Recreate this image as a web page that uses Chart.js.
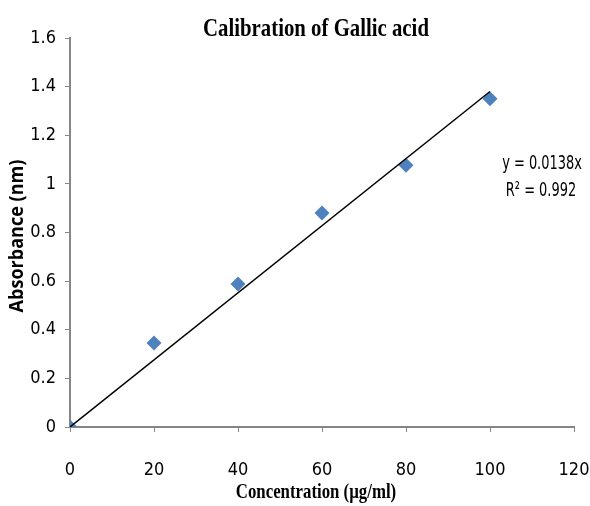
<!DOCTYPE html>
<html>
<head>
<meta charset="utf-8">
<script src="https://cdn.jsdelivr.net/npm/chart.js@4/dist/chart.umd.min.js"></script>
<style>
  html, body { margin: 0; padding: 0; background: #fff; }
  canvas { display: block; }
</style>
</head>
<body>
<canvas id="calib" width="590" height="506"></canvas>
<script>
// Data
var concentrations = [0, 20, 40, 60, 80, 100];
var absorbance = [0, 0.346, 0.588, 0.88, 1.077, 1.35];
var slope = 0.0138;          // trendline y = 0.0138x
var equationLines = ["y = 0.0138x", "R\u00b2 = 0.992"];
var xTicks = [0, 20, 40, 60, 80, 100, 120];
var yTicks = [0, 0.2, 0.4, 0.6, 0.8, 1, 1.2, 1.4, 1.6];

var axisGray = "#868686";
var tickFont = "'DejaVu Sans Condensed', 'Liberation Sans', sans-serif";
var serif = "'Liberation Serif', 'Times New Roman', serif";

var points = concentrations.map(function (x, i) { return { x: x, y: absorbance[i] }; });
var trend = [concentrations[0], concentrations[concentrations.length - 1]].map(function (x) {
    return { x: x, y: slope * x };
});

// squeezed text, the original picture is a bit narrow
function squeezed(c, text, x, y, sx, angle) {
    c.save();
    c.translate(x, y);
    if (angle) c.rotate(angle);
    c.scale(sx, 1);
    c.fillText(text, 0, 0);
    c.restore();
}

// Titles and equation text
var overlayText = {
    id: "overlayText",
    afterDraw: function (chart) {
        var c = chart.ctx;
        c.save();
        c.fillStyle = "#000";
        c.textAlign = "center";
        c.textBaseline = "middle";

        c.font = "bold 26px " + serif;
        squeezed(c, "Calibration of Gallic acid", 316, 29, 0.8);

        c.font = "bold 21px " + serif;
        squeezed(c, "Concentration (\u00b5g/ml)", 316, 493, 0.8);

        c.font = "bold 19px 'Open Sans', 'Liberation Sans', sans-serif";
        squeezed(c, "Absorbance (nm)", 18, 236, 0.95, -Math.PI / 2);

        c.font = "20px " + tickFont;
        squeezed(c, equationLines[0], 542, 164, 0.72);
        squeezed(c, equationLines[1], 541, 191, 0.72);
        c.restore();
    }
};

new Chart(document.getElementById("calib").getContext("2d"), {
    type: "scatter",
    data: {
        datasets: [{
            label: "Trendline",
            type: "line",
            data: trend,
            borderColor: "#000",
            borderWidth: 1.5,
            pointRadius: 0,
            fill: false,
            order: 0
        }, {
            label: "Absorbance",
            data: points,
            pointStyle: "rectRot",
            pointRadius: 7.5,
            pointHoverRadius: 7.5,
            backgroundColor: "#4f81bd",
            borderColor: "#4f81bd",
            borderWidth: 0,
            order: 1
        }]
    },
    options: {
        responsive: false,
        animation: false,
        layout: {
            padding: { top: 38, right: 16, bottom: 27, left: 30 }
        },
        plugins: {
            legend: { display: false },
            tooltip: { enabled: false }
        },
        scales: {
            x: {
                type: "linear",
                min: 0,
                max: 120,
                afterBuildTicks: function (axis) {
                    axis.ticks = xTicks.map(function (v) { return { value: v }; });
                },
                afterFit: function (axis) {
                    axis.height = 52;
                    axis.paddingLeft = 0;
                    axis.paddingRight = 0;
                },
                grid: {
                    display: true,
                    drawOnChartArea: false,
                    drawTicks: true,
                    tickLength: 5,
                    color: axisGray
                },
                border: { display: true, color: axisGray, width: 2 },
                ticks: {
                    color: "#000",
                    padding: 29,
                    maxRotation: 0,
                    font: { size: 18, family: tickFont, lineHeight: 1 },
                    callback: function (v) { return String(v); }
                }
            },
            y: {
                min: 0,
                max: 1.6,
                afterBuildTicks: function (axis) {
                    axis.ticks = yTicks.map(function (v) { return { value: v }; });
                },
                afterFit: function (axis) {
                    axis.width = 40;
                    axis.paddingTop = 0;
                    axis.paddingBottom = 0;
                },
                grid: {
                    display: true,
                    drawOnChartArea: false,
                    drawTicks: true,
                    tickLength: 5,
                    color: axisGray
                },
                border: { display: true, color: axisGray, width: 2 },
                ticks: {
                    color: "#000",
                    padding: 9,
                    font: { size: 18, family: tickFont, lineHeight: 1 },
                    callback: function (v) { return String(v); }
                }
            }
        }
    },
    plugins: [overlayText]
});
</script>
</body>
</html>
